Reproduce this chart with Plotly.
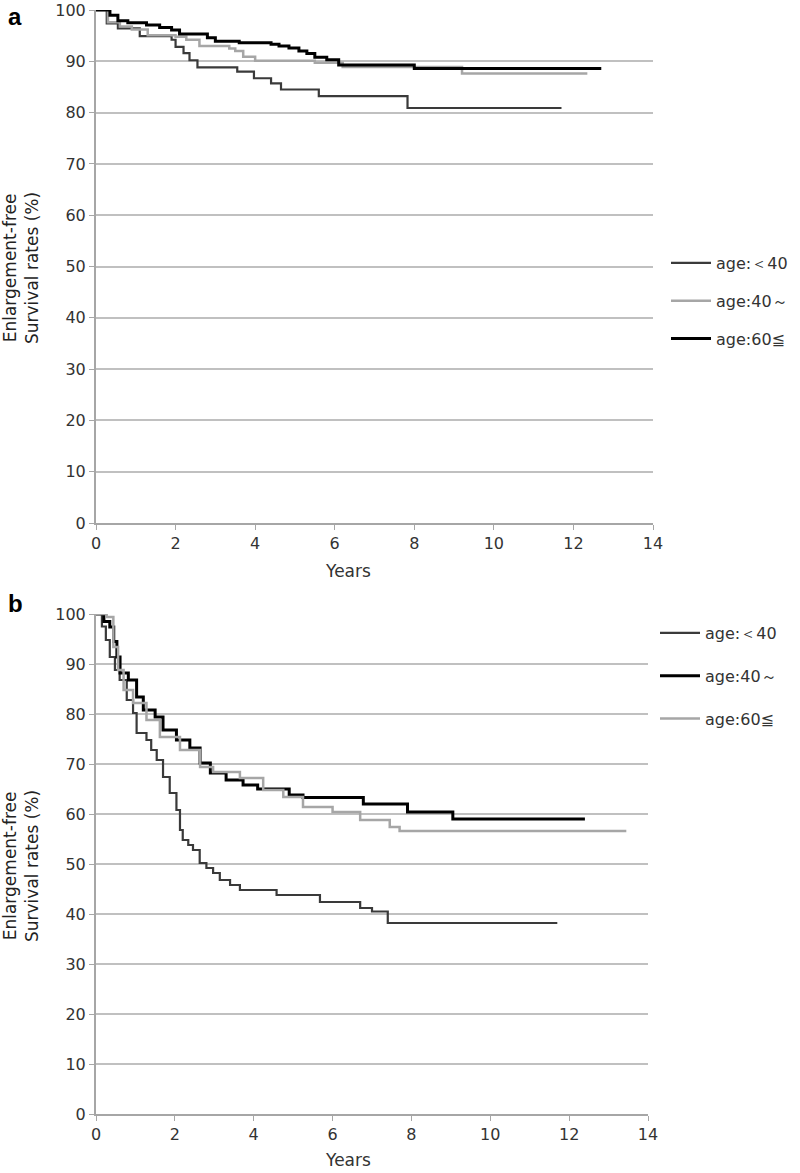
import plotly.graph_objects as go

# ---------------- Panel a data ----------------
a_lt40_t = [0, 0.27, 0.55, 1.1, 1.9, 2.0, 2.2, 2.35, 2.55, 3.55, 3.97, 4.4, 4.65, 5.6, 7.83, 11.7]
a_lt40_v = [100, 97.4, 96.4, 94.9, 94.2, 92.8, 91.6, 90.2, 88.8, 88.0, 86.7, 85.7, 84.5, 83.2, 80.9, 80.9]

a_40_t = [0, 0.3, 0.6, 0.9, 1.3, 2.0, 2.27, 2.6, 3.35, 3.5, 3.7, 4.0, 5.5, 6.2, 9.2, 12.35]
a_40_v = [100, 97.6, 96.8, 96.2, 95.1, 94.8, 94.2, 93.0, 92.5, 92.0, 90.9, 90.1, 89.7, 88.9, 87.6, 87.6]

a_60_t = [0, 0.35, 0.55, 0.8, 1.27, 1.6, 1.9, 2.1, 2.8, 3.0, 3.6, 4.4, 4.6, 4.85, 5.1, 5.3, 5.5, 5.8, 6.1, 8.0, 12.7]
a_60_v = [100, 99.0, 97.9, 97.5, 97.1, 96.6, 96.1, 95.3, 94.6, 93.9, 93.6, 93.3, 93.0, 92.6, 92.0, 91.5, 90.8, 90.3, 89.3, 88.6, 88.6]

# ---------------- Panel b data ----------------
b_lt40_t = [0, 0.15, 0.25, 0.35, 0.48, 0.6, 0.78, 0.94, 1.03, 1.28, 1.4, 1.54, 1.7, 1.87, 2.04, 2.13,
            2.2, 2.34, 2.46, 2.63, 2.8, 2.97, 3.14, 3.4, 3.65, 4.58, 5.68, 6.7, 7.0, 7.4, 11.7]
b_lt40_v = [100, 97.5, 94.8, 91.4, 88.8, 86.8, 82.8, 80.2, 76.2, 74.8, 72.8, 70.8, 67.4, 64.2, 60.8, 56.8,
            54.8, 53.8, 52.8, 50.2, 49.2, 48.2, 46.8, 45.8, 44.8, 43.8, 42.4, 41.2, 40.5, 38.2, 38.2]

b_40_t = [0, 0.2, 0.35, 0.45, 0.53, 0.61, 0.82, 1.03, 1.2, 1.5, 1.7, 2.04, 2.38, 2.64, 2.9, 3.3, 3.73,
          4.1, 4.9, 5.25, 6.78, 7.9, 9.05, 12.4]
b_40_v = [100, 98.5, 97.4, 94.5, 91.4, 88.2, 86.8, 83.4, 80.8, 79.4, 76.8, 74.8, 73.2, 70.2, 68.2, 66.8,
          65.8, 65.0, 63.8, 63.3, 62.0, 60.4, 59.0, 59.0]

b_60_t = [0, 0.27, 0.44, 0.56, 0.7, 0.94, 1.28, 1.62, 2.13, 2.64, 2.97, 3.48, 3.65, 4.24, 4.75, 5.25,
          6.0, 6.7, 7.45, 7.7, 13.45]
b_60_v = [100, 99.4, 93.4, 88.8, 84.8, 82.2, 78.8, 75.4, 72.8, 69.4, 68.4, 68.4, 67.2, 64.8, 63.4, 61.4,
          60.4, 58.8, 57.4, 56.6, 56.6]

names = ["age:＜40", "age:40～", "age:60≦"]
x_ticks = [0, 2, 4, 6, 8, 10, 12, 14]
y_ticks = [0, 10, 20, 30, 40, 50, 60, 70, 80, 90, 100]

DARK = "#3a3a3a"
LIGHT = "#a6a6a6"
BLACK = "#000000"
FONT = "DejaVu Sans"
TXT = "#333333"

fig = go.Figure()

def add(t, v, name, color, width, xa, ya, legend, group):
    fig.add_trace(go.Scatter(x=t, y=v, mode="lines", name=name, line=dict(color=color, width=width, shape="hv"),
                             xaxis=xa, yaxis=ya, legend=legend, legendgroup=group))

add(a_lt40_t, a_lt40_v, names[0], DARK, 2.2, "x", "y", "legend", "a1")
add(a_40_t, a_40_v, names[1], LIGHT, 2.5, "x", "y", "legend", "a2")
add(a_60_t, a_60_v, names[2], BLACK, 3, "x", "y", "legend", "a3")

add(b_lt40_t, b_lt40_v, names[0], DARK, 2.2, "x2", "y2", "legend2", "b1")
add(b_40_t, b_40_v, names[1], BLACK, 3, "x2", "y2", "legend2", "b2")
add(b_60_t, b_60_v, names[2], LIGHT, 2.5, "x2", "y2", "legend2", "b3")

W, H = 800, 1173


def px_x(p):
    return p / W


def px_y(p):
    return 1 - p / H


xaxis_common = dict(range=[0, 14], tickvals=x_ticks, showgrid=False, showline=True, linecolor="#a6a6a6",
                    linewidth=2, ticks="outside", ticklen=5, tickcolor="#a6a6a6", tickwidth=1,
                    tickfont=dict(family=FONT, size=16, color=TXT), zeroline=False, fixedrange=True,
                    automargin=False, ticklabeloverflow="allow")
yaxis_common = dict(range=[0, 100], tickvals=y_ticks, showgrid=True, gridcolor="#c0c0c0", gridwidth=2,
                    showline=True, linecolor="#a6a6a6", linewidth=2, ticks="outside", ticklen=5,
                    tickcolor="#a6a6a6", tickfont=dict(family=FONT, size=16, color=TXT),
                    zeroline=False, fixedrange=True, automargin=False, ticklabeloverflow="allow")

fig.update_layout(
    width=W, height=H, margin=dict(l=0, r=0, t=0, b=0, autoexpand=False),
    paper_bgcolor="white", plot_bgcolor="white",
    xaxis=dict(domain=[px_x(96), px_x(653)], anchor="y", **xaxis_common),
    yaxis=dict(domain=[px_y(523), px_y(10)], anchor="x", **yaxis_common),
    xaxis2=dict(domain=[px_x(96), px_x(648)], anchor="y2", **xaxis_common),
    yaxis2=dict(domain=[px_y(1114), px_y(614)], anchor="x2", **yaxis_common),
    legend=dict(x=px_x(666), y=px_y(246), xanchor="left", yanchor="top", traceorder="grouped",
                tracegroupgap=14, font=dict(family=FONT, size=16, color=TXT),
                bgcolor="rgba(0,0,0,0)", itemwidth=40),
    legend2=dict(x=px_x(655), y=px_y(616), xanchor="left", yanchor="top", traceorder="grouped",
                 tracegroupgap=19, font=dict(family=FONT, size=16, color=TXT),
                 bgcolor="rgba(0,0,0,0)", itemwidth=40),
    showlegend=True,
)

ann_font = dict(family=FONT, size=17, color="#222222")
fig.add_annotation(text="Enlargement-free<br>Survival rates (%)", textangle=-90, x=px_x(21), y=px_y(268),
                   xref="paper", yref="paper", showarrow=False, font=ann_font, xanchor="center", yanchor="middle")
fig.add_annotation(text="Enlargement-free<br>Survival rates (%)", textangle=-90, x=px_x(21), y=px_y(866),
                   xref="paper", yref="paper", showarrow=False, font=ann_font, xanchor="center", yanchor="middle")
fig.add_annotation(text="Years", x=px_x(348), y=px_y(571), xref="paper", yref="paper", showarrow=False,
                   font=dict(family=FONT, size=17, color=TXT), xanchor="center", yanchor="middle")
fig.add_annotation(text="Years", x=px_x(348), y=px_y(1160), xref="paper", yref="paper", showarrow=False,
                   font=dict(family=FONT, size=17, color=TXT), xanchor="center", yanchor="middle")
fig.add_annotation(text="<b>a</b>", x=px_x(6), y=px_y(17), xref="paper", yref="paper", showarrow=False,
                   font=dict(family="Liberation Sans", size=24, color="black"), xanchor="left", yanchor="middle")
fig.add_annotation(text="<b>b</b>", x=px_x(6), y=px_y(603), xref="paper", yref="paper", showarrow=False,
                   font=dict(family="Liberation Sans", size=24, color="black"), xanchor="left", yanchor="middle")

fig.write_html("out.html", config={"displayModeBar": False},
               post_script="document.body.style.margin='0';")
